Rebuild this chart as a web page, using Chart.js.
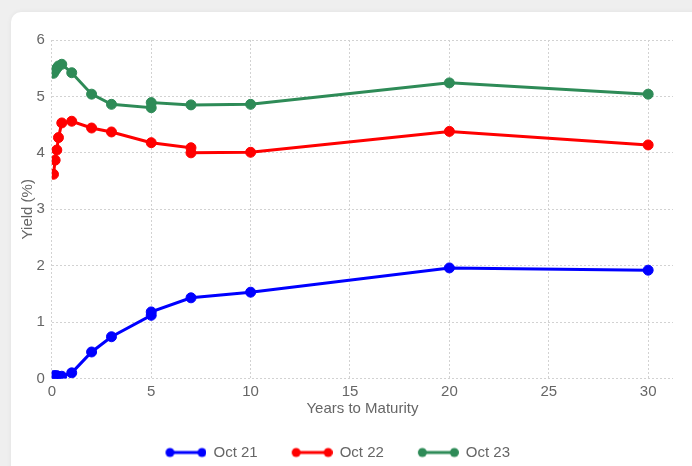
<!DOCTYPE html>
<html>
<head>
<meta charset="utf-8">
<script src="https://cdn.jsdelivr.net/npm/chart.js@4.4.0/dist/chart.umd.min.js"></script>
<style>
  html, body { margin: 0; padding: 0; overflow: hidden; }
  body { width: 692px; height: 466px; background: #efefef; font-family: "Liberation Sans", Arial, sans-serif; }
  .card {
    position: absolute; left: 11px; top: 12px; width: 720px; height: 480px;
    background: #fff; border-radius: 10px; box-shadow: 0 0 5px rgba(0, 0, 0, 0.06);
  }
  #curve { position: absolute; left: -3px; top: 12px; }
</style>
</head>
<body>
<div class="card"></div>
<canvas id="curve" width="695" height="458"></canvas>
<script>
// maturities in years (1m, 2m, 3m, 4m, 6m, 1y ... 30y)
const termsOct21 = [1/12, 2/12, 3/12, 4/12, 6/12, 1, 2, 3, 5, 5, 7, 10, 20, 30]
const yieldsOct21 = [0.05, 0.05, 0.05, 0.04, 0.04, 0.10, 0.47, 0.74, 1.12, 1.18, 1.43, 1.53, 1.96, 1.92]

const termsOct22 = [1/12, 2/12, 3/12, 4/12, 6/12, 1, 2, 3, 5, 7, 7, 10, 20, 30]
const yieldsOct22 = [3.62, 3.87, 4.05, 4.27, 4.53, 4.56, 4.44, 4.37, 4.18, 4.09, 4.00, 4.01, 4.38, 4.14]

const termsOct23 = [1/12, 2/12, 3/12, 4/12, 6/12, 1, 2, 3, 5, 5, 7, 10, 20, 30]
const yieldsOct23 = [5.41, 5.46, 5.50, 5.54, 5.57, 5.42, 5.04, 4.86, 4.80, 4.89, 4.85, 4.86, 5.24, 5.04]

const seriesLabels = ['Oct 21', 'Oct 22', 'Oct 23']
const seriesColors = ['#0000ff', '#ff0000', '#2e8b57']

const xMin = 0
const xMax = 31.25
const xStep = 5
const yMin = 0
const yMax = 6
const yStep = 1

const toPoints = (xs, ys) => xs.map((x, i) => ({ x, y: ys[i] }))

// legend swatch: short line with a dot at each end, small blank strip on the left
function legendSwatch(color) {
  const c = document.createElement('canvas')
  c.width = 47
  c.height = 12
  const g = c.getContext('2d')
  g.strokeStyle = color
  g.fillStyle = color
  g.lineWidth = 3
  g.beginPath()
  g.moveTo(10.5, 6)
  g.lineTo(42.5, 6)
  g.stroke()
  ;[10.5, 42.5].forEach((cx) => {
    g.beginPath()
    g.arc(cx, 6, 4.5, 0, Math.PI * 2)
    g.fill()
  })
  return c
}
const swatches = seriesColors.map(legendSwatch)

const makeSet = (i, xs, ys) => ({
  label: seriesLabels[i],
  data: toPoints(xs, ys),
  borderColor: seriesColors[i],
  backgroundColor: seriesColors[i],
  borderWidth: 3,
  pointRadius: 5,
  pointBorderWidth: 1,
  tension: 0,
})

const textColor = '#666'
const baseFont = { family: '"Liberation Sans", Arial, sans-serif', size: 15 }

new Chart(document.getElementById('curve').getContext('2d'), {
  type: 'line',
  data: {
    datasets: [
      makeSet(0, termsOct21, yieldsOct21),
      makeSet(1, termsOct22, yieldsOct22),
      makeSet(2, termsOct23, yieldsOct23),
    ],
  },
  options: {
    responsive: false,
    animation: false,
    layout: { padding: { top: 28, left: 0, right: 19, bottom: 0 } },
    scales: {
      x: {
        type: 'linear',
        min: xMin,
        max: xMax,
        ticks: { stepSize: xStep, includeBounds: false, padding: 4, color: textColor, font: baseFont },
        grid: { color: '#d2d2d2', drawTicks: false },
        border: { display: false, dash: [2, 2] },
        title: {
          display: true,
          text: 'Years to Maturity',
          color: textColor,
          font: baseFont,
          padding: { top: -5, bottom: -1 },
        },
      },
      y: {
        min: yMin,
        max: yMax,
        ticks: { stepSize: yStep, padding: 7, color: textColor, font: baseFont },
        grid: { color: '#d2d2d2', drawTicks: false },
        border: { display: false, dash: [2, 2] },
        title: {
          display: true,
          text: 'Yield (%)',
          color: textColor,
          font: baseFont,
          padding: { top: 22, bottom: -7.5 },
        },
      },
    },
    plugins: {
      legend: {
        position: 'bottom',
        labels: {
          usePointStyle: true,
          pointStyleWidth: 46,
          padding: 28.5,
          color: textColor,
          font: baseFont,
          generateLabels(chart) {
            const items = Chart.defaults.plugins.legend.labels.generateLabels(chart)
            items.forEach((item, i) => {
              item.pointStyle = swatches[i]
            })
            return items
          },
        },
      },
      tooltip: { enabled: false },
    },
  },
})
</script>
</body>
</html>
